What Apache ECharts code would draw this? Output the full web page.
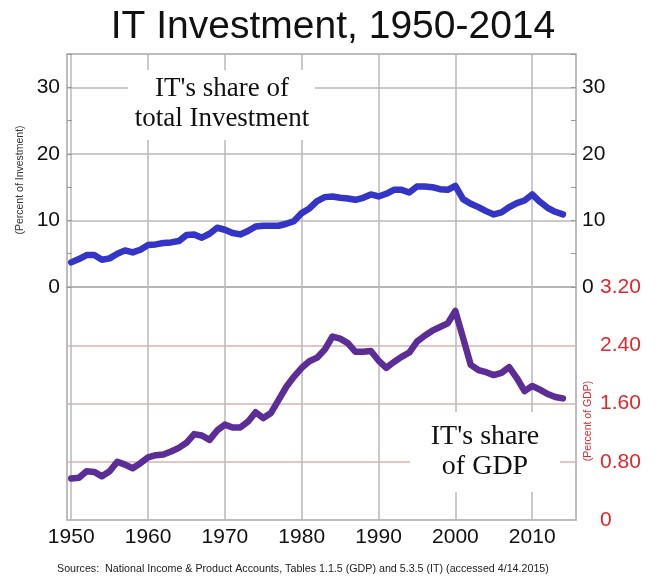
<!DOCTYPE html>
<html>
<head>
<meta charset="utf-8">
<script src="https://cdn.jsdelivr.net/npm/echarts@6/dist/echarts.min.js"></script>
<style>
  html, body { margin: 0; padding: 0; background: #fff; }
  #chart { width: 667px; height: 577px; }
</style>
</head>
<body>
<div id="chart"></div>
<script>
const years = [
  1950, 1951, 1952, 1953, 1954, 1955, 1956, 1957, 1958, 1959,
  1960, 1961, 1962, 1963, 1964, 1965, 1966, 1967, 1968, 1969,
  1970, 1971, 1972, 1973, 1974, 1975, 1976, 1977, 1978, 1979,
  1980, 1981, 1982, 1983, 1984, 1985, 1986, 1987, 1988, 1989,
  1990, 1991, 1992, 1993, 1994, 1995, 1996, 1997, 1998, 1999,
  2000, 2001, 2002, 2003, 2004, 2005, 2006, 2007, 2008, 2009,
  2010, 2011, 2012, 2013, 2014
];

// IT share of total investment (percent)
const shareOfInvestment = [
  3.7, 4.2, 4.8, 4.8, 4.1, 4.3, 5.0, 5.5, 5.2, 5.6,
  6.3, 6.4, 6.6, 6.7, 6.9, 7.8, 7.9, 7.4, 8.0, 8.9,
  8.6, 8.1, 7.9, 8.4, 9.1, 9.2, 9.2, 9.2, 9.5, 9.9,
  11.1, 11.8, 12.9, 13.5, 13.6, 13.4, 13.3, 13.1, 13.4, 13.9,
  13.6, 14.0, 14.6, 14.6, 14.2, 15.1, 15.1, 15.0, 14.7, 14.6,
  15.2, 13.2, 12.5, 12.0, 11.4, 10.9, 11.2, 12.0, 12.6, 13.0,
  13.9, 12.8, 11.9, 11.3, 10.9
];

// IT share of GDP (percent)
const shareOfGDP = [
  0.57, 0.58, 0.67, 0.66, 0.60, 0.67, 0.80, 0.76, 0.71, 0.78,
  0.86, 0.89, 0.90, 0.94, 0.99, 1.06, 1.18, 1.16, 1.10, 1.23,
  1.31, 1.27, 1.27, 1.35, 1.48, 1.40, 1.47, 1.65, 1.83, 1.97,
  2.09, 2.18, 2.23, 2.34, 2.52, 2.49, 2.43, 2.31, 2.31, 2.32,
  2.19, 2.09, 2.17, 2.24, 2.30, 2.45, 2.53, 2.60, 2.65, 2.70,
  2.87, 2.50, 2.13, 2.06, 2.03, 1.99, 2.02, 2.10, 1.95, 1.77,
  1.84, 1.79, 1.73, 1.69, 1.67
];

const yearTicks = [1950, 1960, 1970, 1980, 1990, 2000, 2010];

const SANS = "Liberation Sans, Arial, sans-serif";
const SERIF = "Liberation Serif, Times New Roman, serif";
const gridGray = "#b8b8b8";
const gridPink = "#d9b3b3";
const red = "#e3262b";

const chart = echarts.init(document.getElementById("chart"));

function pairs(xs, ys) {
  return xs.map((x, i) => [x, ys[i]]);
}

const xCommon = {
  type: "value",
  min: 1949.45,
  max: 2015.7,
  axisLine: { show: false },
  axisTick: { show: false, customValues: yearTicks },
  splitLine: { show: true, lineStyle: { color: gridGray, width: 1.5 } },
};

const option = {
  animation: false,
  title: {
    text: "IT Investment, 1950-2014",
    left: 328,
    top: 3,
    textAlign: "center",
    textStyle: { fontFamily: SANS, fontSize: 39, fontWeight: "normal", color: "#111" },
  },
  grid: [
    { left: 67, right: 91, top: 54, height: 233, show: true, borderColor: "#a8a8a8", borderWidth: 1.5 },
    { left: 67, right: 91, top: 287, bottom: 57, show: true, borderColor: "#a8a8a8", borderWidth: 1.5 },
  ],
  xAxis: [
    Object.assign({}, xCommon, {
      gridIndex: 0,
      axisLabel: { show: false, customValues: yearTicks },
    }),
    Object.assign({}, xCommon, {
      gridIndex: 1,
      axisLabel: {
        show: true,
        customValues: yearTicks,
        margin: 7,
        fontFamily: SANS,
        fontSize: 21,
        color: "#111",
        formatter: (v) => String(v),
      },
    }),
  ],
  yAxis: [
    {
      gridIndex: 0,
      position: "left",
      type: "value",
      min: 0,
      max: 35,
      interval: 5,
      axisLine: { show: false },
      axisTick: { show: true, inside: true, length: 5, lineStyle: { color: "#999" } },
      axisLabel: {
        margin: 7,
        fontFamily: SANS,
        fontSize: 21,
        color: "#111",
        formatter: (v) => (v % 10 === 0 && v < 35 ? String(v) : ""),
      },
      splitLine: { show: true, lineStyle: { color: [gridGray, "transparent"], width: 1.5 } },
    },
    {
      gridIndex: 0,
      position: "right",
      type: "value",
      min: 0,
      max: 35,
      interval: 5,
      axisLine: { show: false },
      axisTick: { show: true, inside: true, length: 5, lineStyle: { color: "#999" } },
      axisLabel: {
        margin: 6,
        fontFamily: SANS,
        fontSize: 21,
        color: "#111",
        formatter: (v) => (v % 10 === 0 && v < 35 ? String(v) : ""),
      },
      splitLine: { show: false },
    },
    {
      gridIndex: 1,
      position: "right",
      type: "value",
      min: 0,
      max: 3.2,
      interval: 0.8,
      axisLine: { show: false },
      axisTick: { show: false },
      axisLabel: {
        margin: 24,
        fontFamily: SANS,
        fontSize: 21,
        color: red,
        formatter: (v) => (v === 0 ? "0" : v.toFixed(2)),
      },
      splitLine: {
        show: true,
        lineStyle: { color: ["transparent", gridPink, gridPink, gridPink, "transparent"], width: 1.5 },
      },
    },
  ],
  graphic: [
    { type: "rect", z: 50, shape: { x: 128, y: 70, width: 187, height: 70 }, style: { fill: "#fff" } },
    {
      type: "text", z: 51, x: 222, y: 104,
      style: {
        text: "IT's share of\ntotal Investment",
        align: "center", verticalAlign: "middle",
        fontFamily: SERIF, fontSize: 27, lineHeight: 30, fill: "#111",
      },
    },
    { type: "rect", z: 50, shape: { x: 410, y: 412, width: 150, height: 80 }, style: { fill: "#fff" } },
    {
      type: "text", z: 51, x: 485, y: 452,
      style: {
        text: "IT's share\nof GDP",
        align: "center", verticalAlign: "middle",
        fontFamily: SERIF, fontSize: 28, lineHeight: 30, fill: "#111",
      },
    },
    {
      type: "text", x: 20, y: 180, rotation: Math.PI / 2,
      style: {
        text: "(Percent of Investment)",
        align: "center", verticalAlign: "middle",
        fontFamily: SANS, fontSize: 10.5, fill: "#333",
      },
    },
    {
      type: "text", x: 588, y: 421, rotation: Math.PI / 2,
      style: {
        text: "(Percent of GDP)",
        align: "center", verticalAlign: "middle",
        fontFamily: SANS, fontSize: 10.5, fill: red,
      },
    },
    {
      type: "text", x: 57, y: 569,
      style: {
        text: "Sources:  National Income & Product Accounts, Tables 1.1.5 (GDP) and 5.3.5 (IT) (accessed 4/14.2015)",
        align: "left", verticalAlign: "middle",
        fontFamily: SANS, fontSize: 10.7, fill: "#222",
      },
    },
  ],
  series: [
    {
      name: "IT's share of total Investment",
      type: "line",
      xAxisIndex: 0,
      yAxisIndex: 0,
      data: pairs(years, shareOfInvestment),
      showSymbol: false,
      symbol: "none",
      lineStyle: { color: "#3434c6", width: 6.5, cap: "round", join: "round" },
    },
    {
      name: "IT's share of GDP",
      type: "line",
      xAxisIndex: 1,
      yAxisIndex: 2,
      data: pairs(years, shareOfGDP),
      showSymbol: false,
      symbol: "none",
      lineStyle: { color: "#5c2d97", width: 6.5, cap: "round", join: "round" },
    },
  ],
};

chart.setOption(option);
</script>
</body>
</html>
